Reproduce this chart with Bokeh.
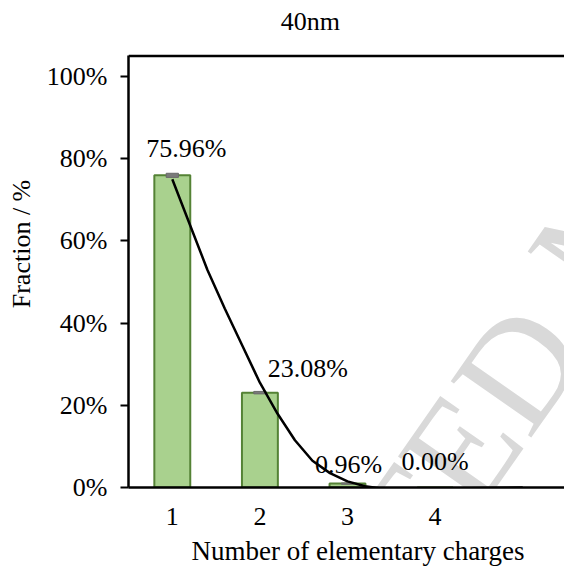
from bokeh.plotting import figure
from bokeh.models import FixedTicker, NumeralTickFormatter, Span, ColumnDataSource, Range1d, Title
from bokeh.embed import file_html
from bokeh.resources import INLINE
from bokeh.core.properties import value

# ---- data ----
categories = [1, 2, 3, 4]
fractions = [75.96, 23.08, 0.96, 0.00]          # percent
errors = [0.5, 0.3, 0.15, 0.0]                   # percent
fit_x = [1.0, 1.2, 1.4, 1.6, 1.8, 2.0, 2.2, 2.4, 2.6, 2.8, 3.0, 3.2, 3.4, 3.6, 3.8, 4.0, 4.4, 5.0]
fit_y = [75.0, 64.0, 53.0, 43.5, 34.5, 25.5, 18.0, 11.5, 6.5, 3.5, 1.5, 0.3, -0.3, -0.5, -0.5, -0.4, -0.2, 0.0]
y_ticks = [0, 20, 40, 60, 80, 100]
title_text = "40nm"
x_title = "Number of elementary charges"
y_title = "Fraction / %"
watermark = ["ACCEPTED", "MANUSCRIPT"]

FONT = "Liberation Serif"
Y_TOP = 1.05                 # top of the plotted box
Y_VIEW = 1.185               # frame extends above the box to hold the title

p = figure(width=564, height=573, output_backend="svg", toolbar_location=None,
           x_range=Range1d(0.5, 5.477), y_range=Range1d(0, Y_VIEW),
           min_border_left=128, min_border_right=0, min_border_top=0, min_border_bottom=86)
p.outline_line_color = None
p.xgrid.visible = False
p.ygrid.visible = False
p.background_fill_color = "white"

# watermark (light grey, behind everything)
p.text(x=[5.30, 5.47], y=[0.40, 0.50], text=watermark, angle=[55, 55], angle_units="deg",
       text_align=["right", "left"], text_baseline="middle",
       text_font=value(FONT), text_font_size="150px", text_color="#d9d9d9", level="underlay")

bars = ColumnDataSource(dict(
    x=categories,
    top=[v / 100 for v in fractions],
    label=[f"{v:.2f}%" for v in fractions],
    dx=[14, 48, 1, 0],
    dy=[-27, -24, -19, -26],
))

p.vbar(x="x", top="top", width=0.41, source=bars,
       fill_color="#a9d18e", line_color="#548235", line_width=2)

err_x = [c for c, e in zip(categories, errors) if e > 0]
err_lo = [(v - e) / 100 for v, e in zip(fractions, errors) if e > 0]
err_hi = [(v + e) / 100 for v, e in zip(fractions, errors) if e > 0]
p.quad(left=[c - 0.07 for c in err_x], right=[c + 0.07 for c in err_x],
       bottom=err_lo, top=err_hi, fill_color="#7a7a7a", line_color="#6a6a6a", line_width=1)

p.line(fit_x, [y / 100 for y in fit_y], line_color="black", line_width=2.5)

p.text(x="x", y="top", text="label", source=bars, x_offset="dx", y_offset="dy",
       text_align="center", text_baseline="middle",
       text_font=value(FONT), text_font_size="26px", text_color="black")

# chart title, drawn inside the frame's upper strip
p.text(x=[2.575], y=[1.134], text=[title_text], text_align="center", text_baseline="middle",
       text_font=value(FONT), text_font_size="26px", text_color="black")

# axes
p.xaxis.ticker = FixedTicker(ticks=categories)
p.xaxis.major_tick_out = 0
p.xaxis.major_tick_in = 0
p.xaxis.minor_tick_out = 0
p.xaxis.minor_tick_in = 0
p.xaxis.axis_line_width = 2.5
p.xaxis.axis_line_color = "black"
p.xaxis.major_label_text_font = FONT
p.xaxis.major_label_text_font_size = "26px"
p.xaxis.major_label_text_color = "black"
p.xaxis.major_label_standoff = 20

p.yaxis.ticker = FixedTicker(ticks=[t / 100 for t in y_ticks])
p.yaxis.formatter = NumeralTickFormatter(format="0%")
p.yaxis.bounds = (0, Y_TOP)
p.yaxis.major_tick_out = 8
p.yaxis.major_tick_in = 0
p.yaxis.minor_tick_out = 0
p.yaxis.minor_tick_in = 0
p.yaxis.major_tick_line_width = 2
p.yaxis.major_tick_line_color = "black"
p.yaxis.axis_line_width = 2.5
p.yaxis.axis_line_color = "black"
p.yaxis.major_label_text_font = FONT
p.yaxis.major_label_text_font_size = "26px"
p.yaxis.major_label_text_color = "black"
p.yaxis.major_label_standoff = 13
p.yaxis.axis_label = y_title
p.yaxis.axis_label_text_font = FONT
p.yaxis.axis_label_text_font_size = "26px"
p.yaxis.axis_label_text_font_style = "normal"
p.yaxis.axis_label_text_color = "black"
p.yaxis.axis_label_standoff = 8

p.add_layout(Span(location=Y_TOP, dimension="width", line_color="black", line_width=2.5))

p.add_layout(Title(text=x_title, align="left", offset=63, text_font=FONT, text_font_size="27px",
                   text_font_style="normal", text_color="black", standoff=13), "below")

open("out.html", "w").write(file_html(p, INLINE))
